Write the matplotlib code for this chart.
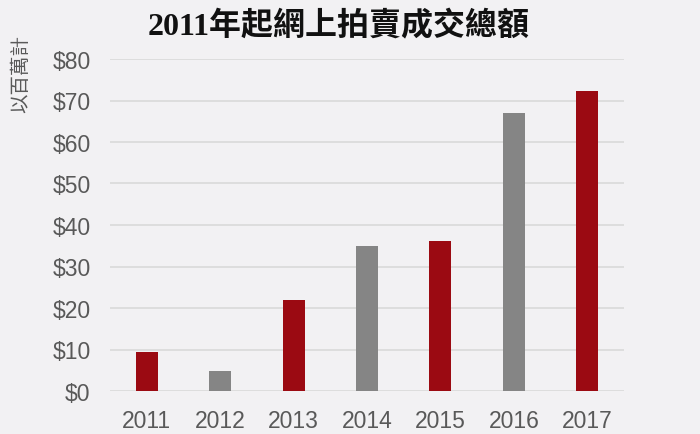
import numpy as np
import matplotlib
matplotlib.use('Agg')
from matplotlib import pyplot as plt

years = ['2011', '2012', '2013', '2014', '2015', '2016', '2017']
values = [9.5, 4.7, 21.9, 35.0, 36.2, 67.1, 72.4]
barColors = ['#9b0a12', '#858585', '#9b0a12', '#858585', '#9b0a12', '#858585', '#9b0a12']
yTicks = [0, 10, 20, 30, 40, 50, 60, 70, 80]
yTickLabels = ['$%d' % v for v in yTicks]

bg = '#f2f1f3'
fg = plt.figure(figsize=(7, 4.35), dpi=100, facecolor=bg)
ax = fg.add_axes([110/700., 1 - 392/435., 514/700., 332/435.])
ax.set_facecolor(bg)

xx = np.arange(len(years))
ax.bar(xx, values, width=0.3, color=barColors, zorder=3)

ax.set_xlim(-0.5, len(years) - 0.5)
ax.set_ylim(0, 80)
ax.set_yticks(yTicks)
ax.set_yticklabels(yTickLabels)
ax.set_xticks(xx)
ax.set_xticklabels(years)
ax.grid(axis='y', color='#d9d9d9', linewidth=1.2, zorder=0)
for s in ax.spines.values():
  s.set_visible(False)
ax.tick_params(length=0, labelsize=16.5, labelcolor='#595959')
ax.tick_params(axis='x', pad=13)
ax.tick_params(axis='y', pad=14)
for lb in ax.get_xticklabels() + ax.get_yticklabels():
  lb.set_family(['Liberation Sans', 'DejaVu Sans'])

fg.text(339/700., 1 - 27/435., '2011年起網上拍賣成交總額', ha='center', va='center',
        fontsize=23, fontweight='bold', color='#111111',
        family=['Liberation Serif', 'Noto Sans CJK TC'])
fg.text(21/700., 1 - 74/435., '以百萬計', ha='center', va='center', rotation=90,
        fontsize=14, color='#595959', family=['Noto Sans CJK TC', 'DejaVu Sans'])

fg.savefig('out.png', dpi=100, facecolor=bg)
